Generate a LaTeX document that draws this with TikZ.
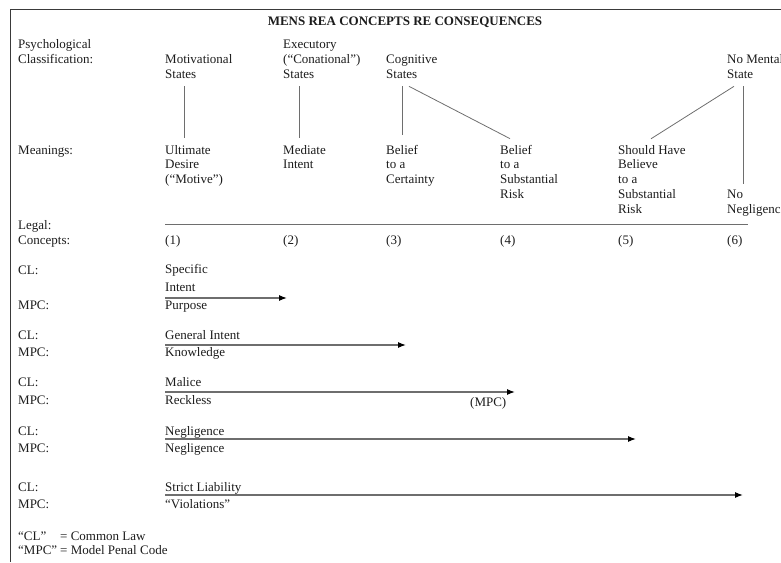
\documentclass[tikz,border=0pt]{standalone}
\usepackage{fontspec}
\setmainfont{Liberation Serif}
\usepackage{xcolor}
\usetikzlibrary{arrows.meta}
\definecolor{ink}{HTML}{1C1C1C}
\definecolor{rulegray}{HTML}{6E6E6E}
\definecolor{framegray}{HTML}{3A3A3A}

\begin{document}
\begin{tikzpicture}[x=1pt,y=-1pt,>={Latex[length=8pt,width=6pt,color=black]},
	every node/.style={inner sep=0pt,anchor=base west,align=left,text=ink,font=\fontsize{13}{14.8}\selectfont},
	link/.style={draw=rulegray,line width=0.8pt},
	goes/.style={->,draw=rulegray,line width=1.2pt}]
	\useasboundingbox (0,0) rectangle (781,562);
	\clip (0,0) rectangle (781,562);
	\draw[framegray,line width=1pt] (781,9) -- (10,9) -- (10,562);

	% heading and psychological states (multi-line nodes sit on their last baseline)
	\node[anchor=base,font=\bfseries\fontsize{13}{15}\selectfont]	(title)	at (405,25)	{MENS REA CONCEPTS RE CONSEQUENCES};
	\node	(psych)	at (18,63)	{Psychological\\Classification:};
	\node	(motiv)	at (165,78)	{Motivational\\States};
	\node	(exec)	at (283,78)	{Executory\\(“Conational”)\\States};
	\node	(cogn)	at (386,78)	{Cognitive\\States};
	\node	(nomen)	at (727,78)	{No Mental\\State};

	% meanings
	\node	(mean)	at (18,154)	{Meanings:};
	\node	(ultim)	at (165,183.6)	{Ultimate\\Desire\\(“Motive”)};
	\node	(medi)	at (283,168.8)	{Mediate\\Intent};
	\node	(cert)	at (386,183.6)	{Belief\\to a\\Certainty};
	\node	(risk)	at (500,198.4)	{Belief\\to a\\Substantial\\Risk};
	\node	(should)	at (618,213.2)	{Should Have\\Believe\\to a\\Substantial\\Risk};
	\node	(noneg)	at (727,213.2)	{No\\Negligence};

	\path	([shift={(19,8)}]motiv.south west)	edge[link]	([shift={(19,-7)}]ultim.north west)
		([shift={(16,8)}]exec.south west)	edge[link]	([shift={(16,-7)}]medi.north west)
		([shift={(16,8)}]cogn.south west)	edge[link]	([shift={(16,-10)}]cert.north west)
		([shift={(23,8)}]cogn.south west)	edge[link]	([shift={(10,-6)}]risk.north west)
		([shift={(7,8)}]nomen.south west)	edge[link]	([shift={(33,-6)}]should.north west)
		([shift={(16,8)}]nomen.south west)	edge[link]	([shift={(16,-6)}]noneg.north west);

	% legal concepts
	\draw[rulegray,line width=1pt] (165,224) -- (748,224);
	\node	(legal)	at (18,244)	{Legal:\\Concepts:};
	\node	(c1)	at (165,244)	{(1)};
	\node	(c2)	at (283,244)	{(2)};
	\node	(c3)	at (386,244)	{(3)};
	\node	(c4)	at (500,244)	{(4)};
	\node	(c5)	at (618,244)	{(5)};
	\node	(c6)	at (727,244)	{(6)};

	\node	(cla)	at (18,274)	{CL:};
	\node	(mpca)	at (18,309)	{MPC:};
	\node	(spec)	at (165,291)	{Specific\\[2.5pt]Intent};
	\node	(purp)	at (165,309)	{Purpose};
	\coordinate	(specend)	at (287,298);

	\node	(clb)	at (18,339)	{CL:};
	\node	(mpcb)	at (18,356)	{MPC:};
	\node	(gen)	at (165,339)	{General Intent};
	\node	(know)	at (165,356)	{Knowledge};
	\coordinate	(genend)	at (406,345);

	\node	(clc)	at (18,386)	{CL:};
	\node	(mpcc)	at (18,404)	{MPC:};
	\node	(mal)	at (165,386)	{Malice};
	\node	(reck)	at (165,404)	{Reckless};
	\node	(mpcmark)	at (470,406)	{(MPC)};
	\coordinate	(malend)	at (515,392);

	\node	(cld)	at (18,435)	{CL:};
	\node	(mpcd)	at (18,452)	{MPC:};
	\node	(negcl)	at (165,435)	{Negligence};
	\node	(negmpc)	at (165,452)	{Negligence};
	\coordinate	(negend)	at (636,439);

	\node	(cle)	at (18,491)	{CL:};
	\node	(mpce)	at (18,508)	{MPC:};
	\node	(strict)	at (165,491)	{Strict Liability};
	\node	(viol)	at (165,508)	{“Violations”};
	\coordinate	(strictend)	at (743,495);

	\draw[goes]	(spec.west |- specend)	-- (specend);
	\draw[goes]	(gen.west |- genend)	-- (genend);
	\draw[goes]	(mal.west |- malend)	-- (malend);
	\draw[goes]	(negcl.west |- negend)	-- (negend);
	\draw[goes]	(strict.west |- strictend)	-- (strictend);

	% key
	\node	(keycl)	at (18,540)	{“CL”};
	\node	(keyclt)	at (60,540)	{= Common Law};
	\node	(keympc)	at (18,554)	{“MPC”};
	\node	(keympct)	at (60,554)	{= Model Penal Code};
\end{tikzpicture}
\end{document}
